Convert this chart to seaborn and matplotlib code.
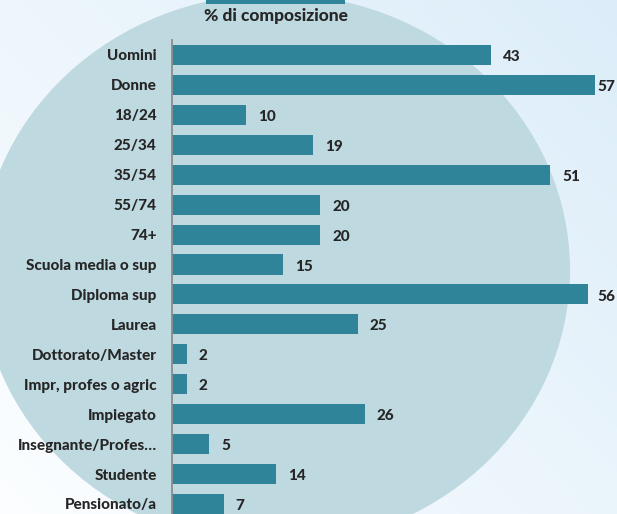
import numpy as np
import pandas as pd
import matplotlib
matplotlib.use('Agg')
import matplotlib.pyplot as plt
from matplotlib.patches import Ellipse, Rectangle
import seaborn as sns

categorie = ['Uomini', 'Donne', '18/24', '25/34', '35/54', '55/74', '74+',
             'Scuola media o sup', 'Diploma sup', 'Laurea', 'Dottorato/Master',
             'Impr, profes o agric', 'Impiegato', 'Insegnante/Profes\u2026',
             'Studente', 'Pensionato/a']
valori = [43, 57, 10, 19, 51, 20, 20, 15, 56, 25, 2, 2, 26, 5, 14, 7]

titolo = '% di composizione'
colore_barre = '#2f849a'

df = pd.DataFrame({'categoria': categorie, 'valore': valori})

sns.set_style('white')
plt.rcParams['font.family'] = ['Lato', 'DejaVu Sans']

fig = plt.figure(figsize=(6.17, 5.14), dpi=100)

# sfondo: gradiente chiaro + ellisse azzurra
bg = fig.add_axes([0, 0, 1, 1])
gx, gy = np.meshgrid(np.linspace(0, 1, 200), np.linspace(0, 1, 200))
grad = 0.55 * gx + 0.45 * (1 - gy)
cmap = matplotlib.colors.LinearSegmentedColormap.from_list('bg', ['#fcfeff', '#dcedf9'])
bg.imshow(grad, extent=[0, 617, 514, 0], aspect='auto', cmap=cmap)
bg.add_patch(Ellipse((275, 270), 590, 552, color='#bed9e0', lw=0))
bg.add_patch(Rectangle((206, 0), 139, 4, color=colore_barre, lw=0))
bg.set_xlim(0, 617)
bg.set_ylim(514, 0)
bg.axis('off')
bg.text(276, 16, titolo, ha='center', va='center', fontsize=12.5, fontweight='black')

# grafico a barre
ax = fig.add_axes([172 / 617, 0, (617 - 172) / 617, (514 - 40) / 514])
ax.patch.set_alpha(0)
sns.barplot(data=df, x='valore', y='categoria', color=colore_barre, saturation=1,
            width=0.67, linewidth=0, ax=ax)
ax.set_xlim(0, 445 / (423 / 57))
ax.set_ylim(15 + 10 / 29.9, -0.5)
ax.set_xlabel('')
ax.set_ylabel('')
ax.set_xticks([])
for s in ['top', 'right', 'bottom']:
    ax.spines[s].set_visible(False)
ax.spines['left'].set_color('#8c8c8c')
ax.spines['left'].set_linewidth(1.3)
ax.tick_params(axis='y', length=0, pad=11)
for t in ax.get_yticklabels():
    t.set_fontweight('black')
    t.set_fontsize(11)

xmax = ax.get_xlim()[1]
for i, v in enumerate(valori):
    x = min(v + 1.6, xmax - 2.7)
    ax.text(x, i + 0.07, str(v), ha='left', va='center', fontsize=11, fontweight='black')

fig.savefig('out.png', dpi=100)
